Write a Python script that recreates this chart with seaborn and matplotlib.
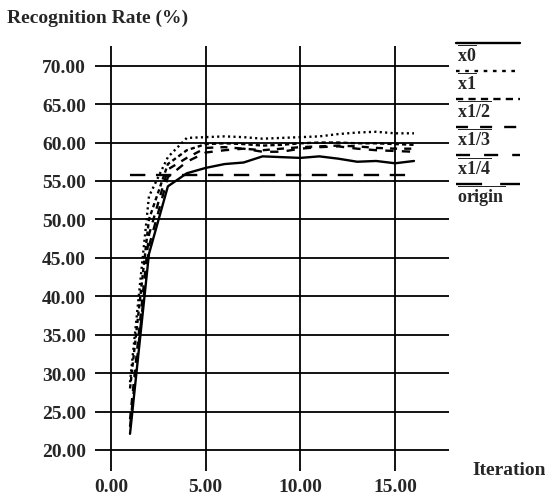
import pandas as pd
import matplotlib
matplotlib.use('Agg')
import matplotlib.pyplot as plt
import seaborn as sns

# values
iterations = list(range(1, 17))
x0 = [22.1, 45.5, 54.3, 56.0, 56.7, 57.2, 57.4, 58.2, 58.1, 58.0, 58.2, 57.9, 57.5, 57.6, 57.3, 57.6]
x1 = [28.8, 53.0, 58.1, 60.6, 60.7, 60.8, 60.7, 60.5, 60.6, 60.7, 60.8, 61.1, 61.3, 61.4, 61.2, 61.2]
x1_2 = [28.0, 50.0, 57.2, 59.0, 59.8, 59.9, 59.8, 59.6, 59.7, 59.9, 60.0, 60.0, 59.9, 59.9, 59.8, 59.7]
x1_3 = [24.0, 48.0, 56.5, 58.0, 59.3, 59.4, 59.2, 59.0, 59.2, 59.4, 59.5, 59.6, 59.5, 59.3, 59.2, 59.2]
x1_4 = [23.0, 46.5, 55.5, 57.5, 58.7, 59.0, 59.2, 58.8, 58.8, 59.2, 59.4, 59.5, 59.2, 59.0, 58.9, 58.8]
origin = [55.8] * 16

series_names = ['x0', 'x1', 'x1/2', 'x1/3', 'x1/4', 'origin']
xticks = [0, 5, 10, 15]
yticks = [20, 25, 30, 35, 40, 45, 50, 55, 60, 65, 70]

sns.set_style('white')
plt.rcParams['font.family'] = ['Liberation Serif', 'DejaVu Serif']
plt.rcParams['font.weight'] = 'bold'
plt.rcParams['mathtext.fontset'] = 'custom'
plt.rcParams['mathtext.rm'] = 'Liberation Serif:bold'
plt.rcParams['mathtext.it'] = 'Liberation Serif:bold'
plt.rcParams['mathtext.bf'] = 'Liberation Serif:bold'

# long form table
rows = []
for name, vals in zip(series_names, [x0, x1, x1_2, x1_3, x1_4, origin]):
    for it, v in zip(iterations, vals):
        rows.append({'Iteration': it, 'rate': v, 'series': name})
df = pd.DataFrame(rows)

lw = 1.7
dash_map = {'x0': '', 'x1': (0.9, 1.4), 'x1/2': (1.8, 1.3), 'x1/3': (3, 3),
            'x1/4': (3.5, 3.5), 'origin': (6.5, 4.5)}

fig = plt.figure(figsize=(5.45, 5.02), dpi=100)
W, H = 545, 502
ax = fig.add_axes([95 / W, (H - 471.7) / H, 354 / W, (471.7 - 47) / H])

sns.lineplot(data=df, x='Iteration', y='rate', style='series', dashes=dash_map,
             color='black', linewidth=lw, legend=False, ax=ax)

ax.set_xlim(-0.85, 17.85)
ax.set_ylim(17.3, 72.56)
ax.set_xticks(xticks)
ax.set_yticks(yticks)
ax.set_xticklabels([f'{t:.2f}' for t in xticks])
ax.set_yticklabels([f'{t:.2f}' for t in yticks])
ax.tick_params(axis='both', length=0, labelsize=14)
ax.tick_params(axis='y', pad=6.5)
ax.tick_params(axis='x', pad=5)
ax.grid(True, color='black', linewidth=1.3)
ax.set_axisbelow(True)
for s in ax.spines.values():
    s.set_visible(False)
ax.set_xlabel('')
ax.set_ylabel('')

fig.text(7 / W, (H - 22.7) / H, 'Recognition Rate (%)', fontsize=14,
         fontweight='bold', ha='left', va='baseline')
fig.text(472 / W, (H - 475) / H, 'Iteration', fontsize=14,
         fontweight='bold', ha='left', va='baseline')

# legend: sample line above each label
lax = fig.add_axes([0, 0, 1, 1])
lax.set_xlim(0, W)
lax.set_ylim(H, 0)
lax.axis('off')
for i, name in enumerate(series_names):
    ys = 44 + i * 28.1
    d = dash_map[name]
    line, = lax.plot([456, 520], [ys, ys], color='black', linewidth=lw)
    if d:
        line.set_dashes([v * lw for v in d])
    lax.text(457, ys + 17.5, r'$\overline{\mathrm{' + name + '}}$', fontsize=13,
             ha='left', va='baseline')

fig.savefig('out.png', dpi=100)
